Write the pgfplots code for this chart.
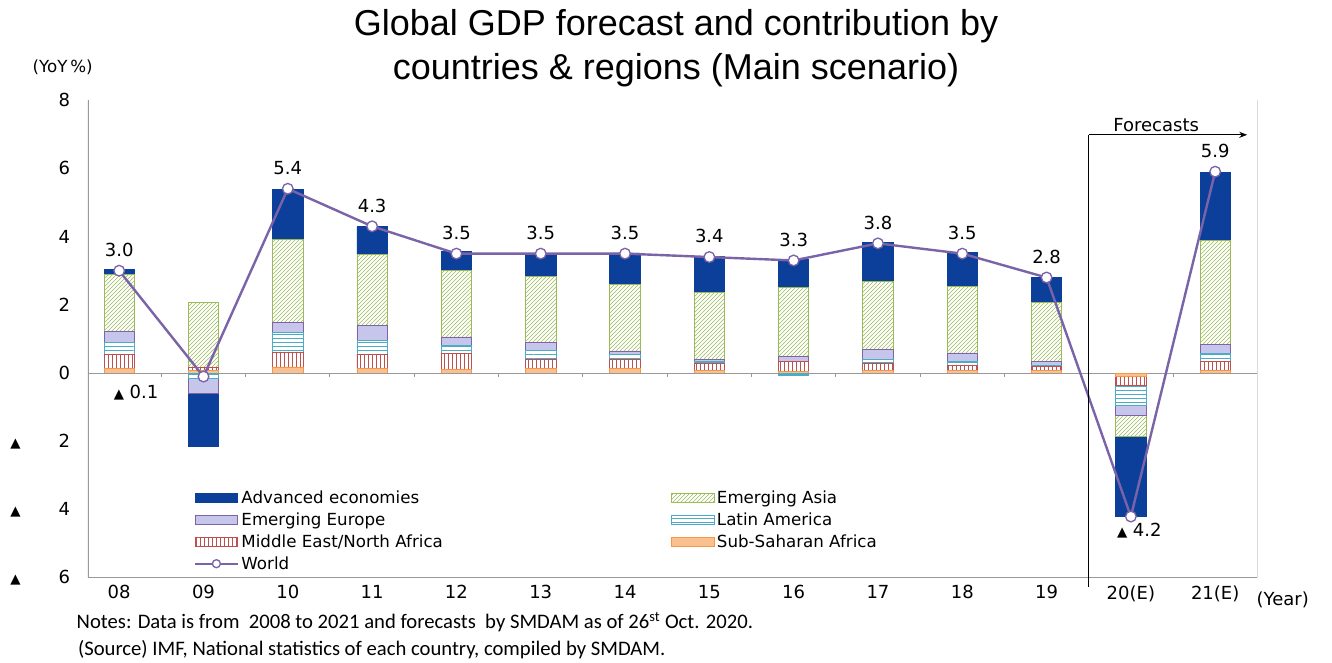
\documentclass[border=0pt]{standalone}
\usepackage{fontspec}
\usepackage{pgfplots}
\usepackage{pgfplotstable}
\pgfplotsset{compat=1.18}
\usetikzlibrary{patterns,arrows.meta}
\setmainfont{DejaVu Sans}
\newfontfamily\titlefont{Liberation Sans}
\newfontfamily\notefont{Carlito}
\newcommand{\tri}{{\fontsize{10}{10}\selectfont ▲}}
\definecolor{cadv}{HTML}{0B3F99}
\definecolor{cea}{HTML}{9BBB59}
\definecolor{cee}{HTML}{8064A2}
\definecolor{ceef}{HTML}{C6C6EC}
\definecolor{cla}{HTML}{4BACC6}
\definecolor{cme}{HTML}{C0504D}
\definecolor{css}{HTML}{F79646}
\definecolor{cssf}{HTML}{FAC090}
\definecolor{cw}{HTML}{7B63A8}
\pgfplotstableread{
x SSA MENA LA EE EA ADV
0 .14 .41 .34 .32 1.68 .15
1 .07 .09 0 0 1.90 0
2 .18 .44 .56 .30 2.44 1.47
3 .14 .42 .40 .43 2.09 .81
4 .12 .46 .24 .24 1.94 .56
5 .14 .27 .25 .24 1.92 .64
6 .14 .27 .13 .11 1.96 .91
7 .09 .20 .05 .07 1.95 1.07
8 .05 .30 0 .15 2.02 .80
9 .09 .20 .10 .31 1.98 1.14
10 .09 .15 .10 .25 1.94 1.00
11 .09 .10 .03 .12 1.73 .74
12 0 0 0 0 0 0
13 .09 .24 .25 .27 3.03 2.00
}\pos
\pgfplotstableread{
x SSA MENA LA EE EA ADV
0 0 0 0 0 0 0
1 0 0 -.15 -.43 0 -1.58
2 0 0 0 0 0 0
3 0 0 0 0 0 0
4 0 0 0 0 0 0
5 0 0 0 0 0 0
6 0 0 0 0 0 0
7 0 0 0 0 0 0
8 0 0 -.08 0 0 0
9 0 0 0 0 0 0
10 0 0 0 0 0 0
11 0 0 0 0 0 0
12 -.09 -.26 -.59 -.31 -.60 -2.35
13 0 0 0 0 0 0
}\negt
\pgfplotstableread{
x W
0 3.0
1 -0.1
2 5.4
3 4.3
4 3.5
5 3.5
6 3.5
7 3.4
8 3.3
9 3.8
10 3.5
11 2.8
12 -4.2
13 5.9
}\world
\tikzset{
 sSSA/.style={draw=css,fill=cssf,line width=0.6pt},
 sMENA/.style={draw=cme,fill=white,line width=0.6pt,postaction={pattern=vertical lines,pattern color=cme}},
 sLA/.style={draw=cla,fill=white,line width=0.6pt,postaction={pattern=horizontal lines,pattern color=cla}},
 sEE/.style={draw=cee,fill=ceef,line width=0.6pt},
 sEA/.style={draw=cea,fill=white,line width=0.6pt,postaction={pattern=north east lines,pattern color=cea}},
 sADV/.style={draw=cadv,fill=cadv,line width=0.6pt},
 lab/.style={anchor=south,font=\fontsize{13.5}{15}\selectfont,yshift=7pt},
}
\pgfplotsset{common/.style={
 width=877pt,height=358.5pt,scale only axis,
 xmin=-0.37,xmax=13.5,ymin=-6,ymax=8,enlargelimits=false,
}}
\begin{document}
\begin{tikzpicture}
\useasboundingbox (-66pt,-63.75pt) rectangle (933pt,433.5pt);
\begin{axis}[common,ybar stacked,bar width=0.36,at={(0,0)},anchor=south west,
 axis line style={draw=none},
 ytick={-6,-4,-2,0,2,4,6,8},
 yticklabels={{\tri\hspace{2.1em}6},{\tri\hspace{2.1em}4},{\tri\hspace{2.1em}2},0,2,4,6,8},
 xtick={0,...,13},
 xticklabels={08,09,10,11,12,13,14,15,16,17,18,19,20(E),21(E)},
 tick style={draw=none},
 ticklabel style={font=\fontsize{13.5}{15}\selectfont},
 yticklabel style={xshift=-10pt},
 xticklabel style={yshift=-2pt},
]
\draw[gray!80,line width=0.8pt] (rel axis cs:0,1)--(rel axis cs:0,0)--(rel axis cs:1,0)--(rel axis cs:1,1);
\draw[gray!80,line width=0.8pt] (axis cs:-0.37,0)--(axis cs:13.5,0);
\pgfplotsinvokeforeach{0.5,1.5,2.5,3.5,4.5,5.5,6.5,7.5,8.5,9.5,10.5,11.5,12.5}{\draw[gray!80,line width=0.8pt] (axis cs:#1,0)--(axis cs:#1,-0.12);}
\addplot[sSSA] table[x=x,y=SSA]{\pos};
\addplot[sMENA] table[x=x,y=MENA]{\pos};
\addplot[sLA] table[x=x,y=LA]{\pos};
\addplot[sEE] table[x=x,y=EE]{\pos};
\addplot[sEA] table[x=x,y=EA]{\pos};
\addplot[sADV] table[x=x,y=ADV]{\pos};
\end{axis}
\begin{axis}[common,ybar stacked,bar width=0.36,at={(0,0)},anchor=south west,hide axis]
\addplot[sSSA] table[x=x,y=SSA]{\negt};
\addplot[sMENA] table[x=x,y=MENA]{\negt};
\addplot[sLA] table[x=x,y=LA]{\negt};
\addplot[sEE] table[x=x,y=EE]{\negt};
\addplot[sEA] table[x=x,y=EA]{\negt};
\addplot[sADV] table[x=x,y=ADV]{\negt};
\end{axis}
\begin{axis}[common,at={(0,0)},anchor=south west,hide axis,clip=false,
 legend columns=2,
 legend style={at={(rel axis cs:0.087,0.195)},anchor=north west,draw=none,fill=none,
   font=\fontsize{12.5}{14}\selectfont,row sep=1.5pt,
   /tikz/every even column/.append style={column sep=169pt}},
 legend cell align=left,
 legend image code/.code={\draw[#1] (0pt,-3.5pt) rectangle (32pt,3.5pt);},
]
\addlegendimage{sADV}\addlegendentry{Advanced economies}
\addlegendimage{sEA}\addlegendentry{Emerging Asia}
\addlegendimage{sEE}\addlegendentry{Emerging Europe}
\addlegendimage{sLA}\addlegendentry{Latin America}
\addlegendimage{sMENA}\addlegendentry{Middle East/North Africa}
\addlegendimage{sSSA}\addlegendentry{Sub-Saharan Africa}
\addlegendimage{legend image code/.code={\draw[cw,line width=1.6pt] (0pt,0pt)--(32pt,0pt); \draw[cw,fill=white,line width=1pt] (16pt,0pt) circle (3pt);}}
\addlegendentry{World}
\addplot[sharp plot,cw,line width=1.8pt,mark=*,mark options={fill=white,draw=cw,line width=1pt},mark size=4pt,forget plot] table[x=x,y=W]{\world};
\node[lab] at (axis cs:0,3.0) {3.0};
\node[lab] at (axis cs:2,5.4) {5.4};
\node[lab] at (axis cs:3,4.3) {4.3};
\node[lab] at (axis cs:4,3.5) {3.5};
\node[lab] at (axis cs:5,3.5) {3.5};
\node[lab] at (axis cs:6,3.5) {3.5};
\node[lab] at (axis cs:7,3.4) {3.4};
\node[lab] at (axis cs:8,3.3) {3.3};
\node[lab] at (axis cs:9,3.8) {3.8};
\node[lab] at (axis cs:10,3.5) {3.5};
\node[lab] at (axis cs:11,2.8) {2.8};
\node[lab] at (axis cs:13,5.9) {5.9};
\node[font=\fontsize{13.5}{15}\selectfont] at (axis cs:0.2,-0.57) {\tri\ 0.1};
\node[font=\fontsize{13.5}{15}\selectfont] at (axis cs:12.1,-4.6) {\tri\ 4.2};
\draw[black,line width=1pt] (axis cs:11.5,-6.25)--(axis cs:11.5,6.98);
\draw[black,line width=0.8pt,-{Stealth[length=6pt]}] (axis cs:11.5,6.98)--(axis cs:13.38,6.98);
\node[anchor=south,font=\fontsize{13.5}{15}\selectfont,inner sep=2pt] at (axis cs:12.3,6.98) {Forecasts};
\end{axis}
\node[font=\titlefont\fontsize{27}{33}\selectfont,align=center] at (441pt,397pt) {Global GDP forecast and contribution by\\countries \& regions (Main scenario)};
\node[font=\fontsize{12.5}{14}\selectfont] at (-19pt,383pt) {(YoY\,\%)};
\node[font=\fontsize{13.5}{15}\selectfont,anchor=west] at (873pt,-16.5pt) {(Year)};
\node[font=\notefont\fontsize{15.5}{17}\selectfont,anchor=west,align=left] at (-12pt,-33pt) {Notes: Data is from\ \ 2008 to 2021 and forecasts\ \ by SMDAM as of 26\textsuperscript{st} Oct. 2020.};
\node[font=\notefont\fontsize{15.5}{17}\selectfont,anchor=west,align=left] at (-11pt,-54pt) {(Source) IMF, National statistics of each country, compiled by SMDAM.};
\end{tikzpicture}
\end{document}
